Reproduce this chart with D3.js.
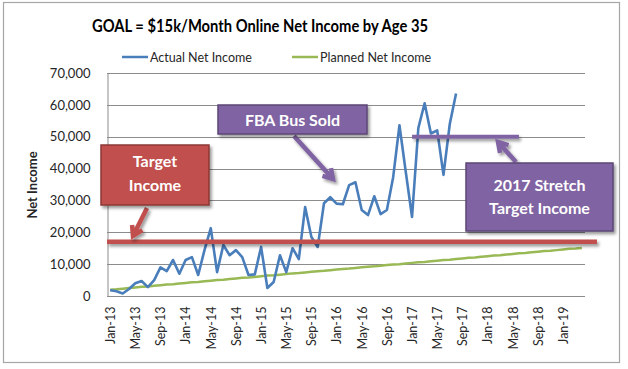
<!DOCTYPE html>
<html>
<head>
<meta charset="utf-8">
<script src="https://cdn.jsdelivr.net/npm/d3@7"></script>
<style>
  html, body { margin: 0; padding: 0; background: #fff; }
  svg { display: block; font-family: Lato, "Open Sans", sans-serif; }
</style>
</head>
<body>
<svg id="chart" width="628" height="369"></svg>
<script>
// ---------------- DATA ----------------
const categories = [
  "Jan-13","Feb-13","Mar-13","Apr-13","May-13","Jun-13","Jul-13","Aug-13","Sep-13","Oct-13","Nov-13","Dec-13",
  "Jan-14","Feb-14","Mar-14","Apr-14","May-14","Jun-14","Jul-14","Aug-14","Sep-14","Oct-14","Nov-14","Dec-14",
  "Jan-15","Feb-15","Mar-15","Apr-15","May-15","Jun-15","Jul-15","Aug-15","Sep-15","Oct-15","Nov-15","Dec-15",
  "Jan-16","Feb-16","Mar-16","Apr-16","May-16","Jun-16","Jul-16","Aug-16","Sep-16","Oct-16","Nov-16","Dec-16",
  "Jan-17","Feb-17","Mar-17","Apr-17","May-17","Jun-17","Jul-17","Aug-17","Sep-17","Oct-17","Nov-17","Dec-17",
  "Jan-18","Feb-18","Mar-18","Apr-18","May-18","Jun-18","Jul-18","Aug-18","Sep-18","Oct-18","Nov-18","Dec-18",
  "Jan-19","Feb-19","Mar-19","Apr-19"
];
const actualNetIncome = [
  1800, 1500, 800, 2200, 4000, 4700, 2800, 5000, 9000, 7800, 11300, 7000,
  11300, 12200, 6600, 14400, 21300, 7500, 16000, 12800, 14400, 12200, 6600, 6800,
  15400, 2500, 4400, 12800, 7500, 15000, 11600, 27900, 18500, 15400, 29100, 31000,
  29000, 28800, 34800, 35700, 27000, 25400, 31300, 25700, 27000, 37300, 53600, 39000,
  24800, 52700, 60500, 51000, 52000, 38000, 54000, 63600
];
const plannedNetIncome = [
  2000, 2100, 2300, 2500, 2700, 2900, 3000, 3200, 3400, 3600, 3700, 3900,
  4100, 4300, 4400, 4600, 4800, 5000, 5100, 5300, 5500, 5700, 5800, 6000,
  6200, 6400, 6500, 6700, 6900, 7100, 7200, 7400, 7600, 7800, 7900, 8100,
  8300, 8500, 8600, 8800, 9000, 9200, 9300, 9500, 9700, 9900, 10000, 10200,
  10400, 10600, 10700, 10900, 11100, 11300, 11400, 11600, 11800, 12000, 12100, 12300,
  12500, 12700, 12800, 13000, 13200, 13400, 13500, 13700, 13900, 14100, 14200, 14400,
  14600, 14800, 14900, 15100
];
const yTicks = [0, 10000, 20000, 30000, 40000, 50000, 60000, 70000];
const xTickLabels = ["Jan-13","May-13","Sep-13","Jan-14","May-14","Sep-14","Jan-15","May-15","Sep-15",
  "Jan-16","May-16","Sep-16","Jan-17","May-17","Sep-17","Jan-18","May-18","Sep-18","Jan-19"];
const targetIncome = 17000;
const stretchTarget = 50000;
const stretchStart = "Jan-17";
const stretchEnd = "Jun-18";

// ---------------- LAYOUT ----------------
const svg = d3.select("#chart");
const plot = { left: 107, right: 585, top: 73, bottom: 296 };
const C = { blue: "#4a7ebb", green: "#98b954", red: "#c0504d", purple: "#8064a2", grid: "#8c8c8c", text: "#262626" };

const x = d3.scalePoint().domain(categories).range([plot.left, plot.right]).padding(0.5);
const y = d3.scaleLinear().domain([0, 70000]).range([plot.bottom, plot.top]);

const defs = svg.append("defs");
const f = defs.append("filter").attr("id", "shadow").attr("filterUnits", "userSpaceOnUse")
  .attr("x", 0).attr("y", 0).attr("width", 628).attr("height", 369);
f.append("feDropShadow").attr("dx", 2).attr("dy", 2.5).attr("stdDeviation", 1.6).attr("flood-color", "#000").attr("flood-opacity", 0.4);

// outer border
svg.append("rect").attr("x", 3.5).attr("y", 2.5).attr("width", 616).attr("height", 360)
  .attr("fill", "#fff").attr("stroke", "#a6a6a6").attr("stroke-width", 1.2);

// title
svg.append("text").attr("x", 260).attr("y", 32).attr("text-anchor", "middle")
  .attr("font-size", 16.5).attr("font-weight", "bold").attr("fill", "#000")
  .attr("textLength", 336).attr("lengthAdjust", "spacingAndGlyphs")
  .text("GOAL = $15k/Month Online Net Income by Age 35");

// legend
const legend = [
  { name: "Actual Net Income", color: C.blue, x: 122 },
  { name: "Planned Net Income", color: C.green, x: 292 }
];
legend.forEach(l => {
  svg.append("line").attr("x1", l.x).attr("x2", l.x + 26).attr("y1", 57).attr("y2", 57)
    .attr("stroke", l.color).attr("stroke-width", 2.5);
  svg.append("text").attr("x", l.x + 28).attr("y", 61.5).attr("font-size", 12.5).attr("fill", C.text).text(l.name);
});

// gridlines
svg.append("g").selectAll("line").data(yTicks.filter(d => d > 0)).join("line")
  .attr("x1", plot.left).attr("x2", plot.right)
  .attr("y1", d => Math.round(y(d)) + 0.5).attr("y2", d => Math.round(y(d)) + 0.5)
  .attr("stroke", C.grid).attr("stroke-width", 1);

// y axis
const yAxis = svg.append("g").attr("transform", `translate(${plot.left + 0.5},0)`)
  .call(d3.axisLeft(y).tickValues(yTicks).tickFormat(d3.format(",")).tickSize(0).tickPadding(17));
yAxis.select(".domain").attr("stroke", C.grid);
yAxis.selectAll("text").attr("font-size", 13).attr("fill", C.text).attr("font-family", "Lato, sans-serif");

// x axis
const xAxis = svg.append("g").attr("transform", `translate(0,${plot.bottom + 0.5})`)
  .call(d3.axisBottom(x).tickValues(xTickLabels).tickSize(0).tickPadding(0));
xAxis.select(".domain").attr("stroke", C.grid).attr("d", `M${plot.left},0H${plot.right}`);
xAxis.selectAll("text")
  .attr("font-size", 12.5).attr("fill", C.text).attr("font-family", "Lato, sans-serif")
  .attr("text-anchor", "end").attr("dy", "0.35em")
  .attr("transform", "translate(0,10) rotate(-90)").attr("x", 0).attr("y", 0);

// y axis title
svg.append("text").attr("transform", "translate(37,185) rotate(-90)").attr("text-anchor", "middle")
  .attr("font-size", 13).attr("font-weight", "bold").attr("fill", C.text).text("Net Income");

// series
const line = d3.line().x((d, i) => x(categories[i])).y(d => y(d));
svg.append("path").datum(plannedNetIncome).attr("d", line)
  .attr("fill", "none").attr("stroke", C.green).attr("stroke-width", 2.5).attr("stroke-linejoin", "round");
svg.append("path").datum(actualNetIncome).attr("d", line)
  .attr("fill", "none").attr("stroke", C.blue).attr("stroke-width", 2.6).attr("stroke-linejoin", "round");

// target line
svg.append("line").attr("x1", plot.left).attr("x2", 597)
  .attr("y1", y(targetIncome)).attr("y2", y(targetIncome))
  .attr("stroke", C.red).attr("stroke-width", 4.5).attr("filter", "url(#shadow)");

// stretch line
svg.append("line").attr("x1", x(stretchStart)).attr("x2", x(stretchEnd))
  .attr("y1", y(stretchTarget)).attr("y2", y(stretchTarget))
  .attr("stroke", C.purple).attr("stroke-width", 4).attr("filter", "url(#shadow)");

// annotation boxes & arrows
function arrow(x1, y1, x2, y2, color) {
  const ang = Math.atan2(y2 - y1, x2 - x1);
  const L = 11, a = 0.55;
  const p1 = [x2 - L * Math.cos(ang - a), y2 - L * Math.sin(ang - a)];
  const p2 = [x2 - L * Math.cos(ang + a), y2 - L * Math.sin(ang + a)];
  svg.append("path")
    .attr("d", `M${x1},${y1}L${x2},${y2}M${p1[0]},${p1[1]}L${x2},${y2}L${p2[0]},${p2[1]}`)
    .attr("fill", "none").attr("stroke", color).attr("stroke-width", 4.5)
    .attr("stroke-linecap", "butt").attr("stroke-linejoin", "miter").attr("filter", "url(#shadow)");
}
function box(x0, y0, w, h, fill, stroke, lines, fs) {
  svg.append("rect").attr("x", x0).attr("y", y0).attr("width", w).attr("height", h)
    .attr("fill", fill).attr("stroke", stroke).attr("stroke-width", 1.5).attr("filter", "url(#shadow)");
  lines.forEach(t => {
    svg.append("text").attr("x", x0 + w / 2).attr("y", t.y).attr("text-anchor", "middle")
      .attr("font-size", fs).attr("font-weight", "bold").attr("fill", "#fff").text(t.s);
  });
}

arrow(147, 208, 133, 236, C.red);
box(101, 145, 108, 60, C.red, "#8c3836", [{ s: "Target", y: 167 }, { s: "Income", y: 191 }], 16);

arrow(294, 136, 333, 179, C.purple);
box(218, 105, 149, 29, C.purple, "#5c4776", [{ s: "FBA Bus Sold", y: 125.5 }], 16);

arrow(516, 162, 498, 142, C.purple);
box(466, 163, 147, 68, C.purple, "#5c4776", [{ s: "2017  Stretch", y: 191 }, { s: "Target Income", y: 214 }], 16);
</script>
</body>
</html>
